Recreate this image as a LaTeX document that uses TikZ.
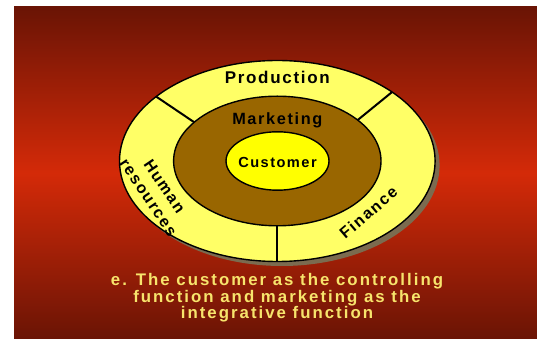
\documentclass[tikz,border=0pt]{standalone}
\usepackage{fontspec}
\setmainfont{Liberation Sans}
\newfontfamily\ringfont{Liberation Sans}[LetterSpace=10]
\newfontfamily\capfont{Liberation Sans}[LetterSpace=12]
\usetikzlibrary{shapes.geometric}
\definecolor{bgdark}{HTML}{6A1405}
\definecolor{bgred}{HTML}{D42A08}
\definecolor{ringyellow}{HTML}{FFFF66}
\definecolor{mktbrown}{HTML}{996600}
\definecolor{custyellow}{HTML}{FFFF00}
\definecolor{shadowgrey}{HTML}{7B6B4F}
\definecolor{captionyellow}{HTML}{F7E46C}
\tikzset{
	ring/.style={ellipse, draw=black, line width=1.4pt, inner sep=0pt, outer sep=0pt},
	divider/.style={line width=2pt, line cap=butt},
	label/.style={font=\ringfont\bfseries, text=black, inner sep=0pt},
}

\begin{document}
\begin{tikzpicture}[x=1pt, y=1pt]
	\useasboundingbox (0,0) rectangle (537,339);
	\shade[top color=bgdark, bottom color=bgdark, middle color=bgred] (14,0) rectangle (537,332);

	% shadow of the disc
	\fill[shadowgrey] (281.8,173.5) ellipse (157.8pt and 100.5pt);

	\node[ring, fill=ringyellow, minimum width=315.6pt, minimum height=201pt] (outer) at (277.3,178) {};
	\node[ring, fill=mktbrown, minimum width=207.4pt, minimum height=129.6pt] (mkt) at (277.3,178) {};
	\node[ring, fill=custyellow, minimum width=103pt, minimum height=58.4pt] (cust) at (277.5,178) {};

	\draw[divider] (outer.152.5) -- (mkt.155.1);
	\draw[divider] (outer.31.5) -- (mkt.27.5);
	\draw[divider] (outer.270) -- (mkt.270);

	\node[label, font=\ringfont\bfseries\fontsize{17}{19}\selectfont, anchor=base] (prod) at (277.3,255) {Production};
	\node[label, font=\ringfont\bfseries\fontsize{16.3}{19}\selectfont, anchor=base] (mktlbl) at (277.3,214) {Marketing};
	\node[label, font=\ringfont\bfseries\fontsize{14.6}{17}\selectfont, anchor=base] (custlbl) at (277.5,171.7) {Customer};
	\node[label, font=\ringfont\bfseries\fontsize{16}{19}\selectfont, rotate=40.5] (fin) at (368.3,126.5) {Finance};
	\node[label, font=\ringfont\bfseries\fontsize{16}{19.5}\selectfont, rotate=-56, align=center] (hr) at (156.5,147) {Human\\resources};

	\node[font=\capfont\bfseries\fontsize{16.8}{15.4}\selectfont, text=captionyellow, align=center, inner sep=0pt, anchor=base] (caption) at (277,20)
		{e. The customer as the controlling\\function and marketing as the\\integrative function};
\end{tikzpicture}
\end{document}
